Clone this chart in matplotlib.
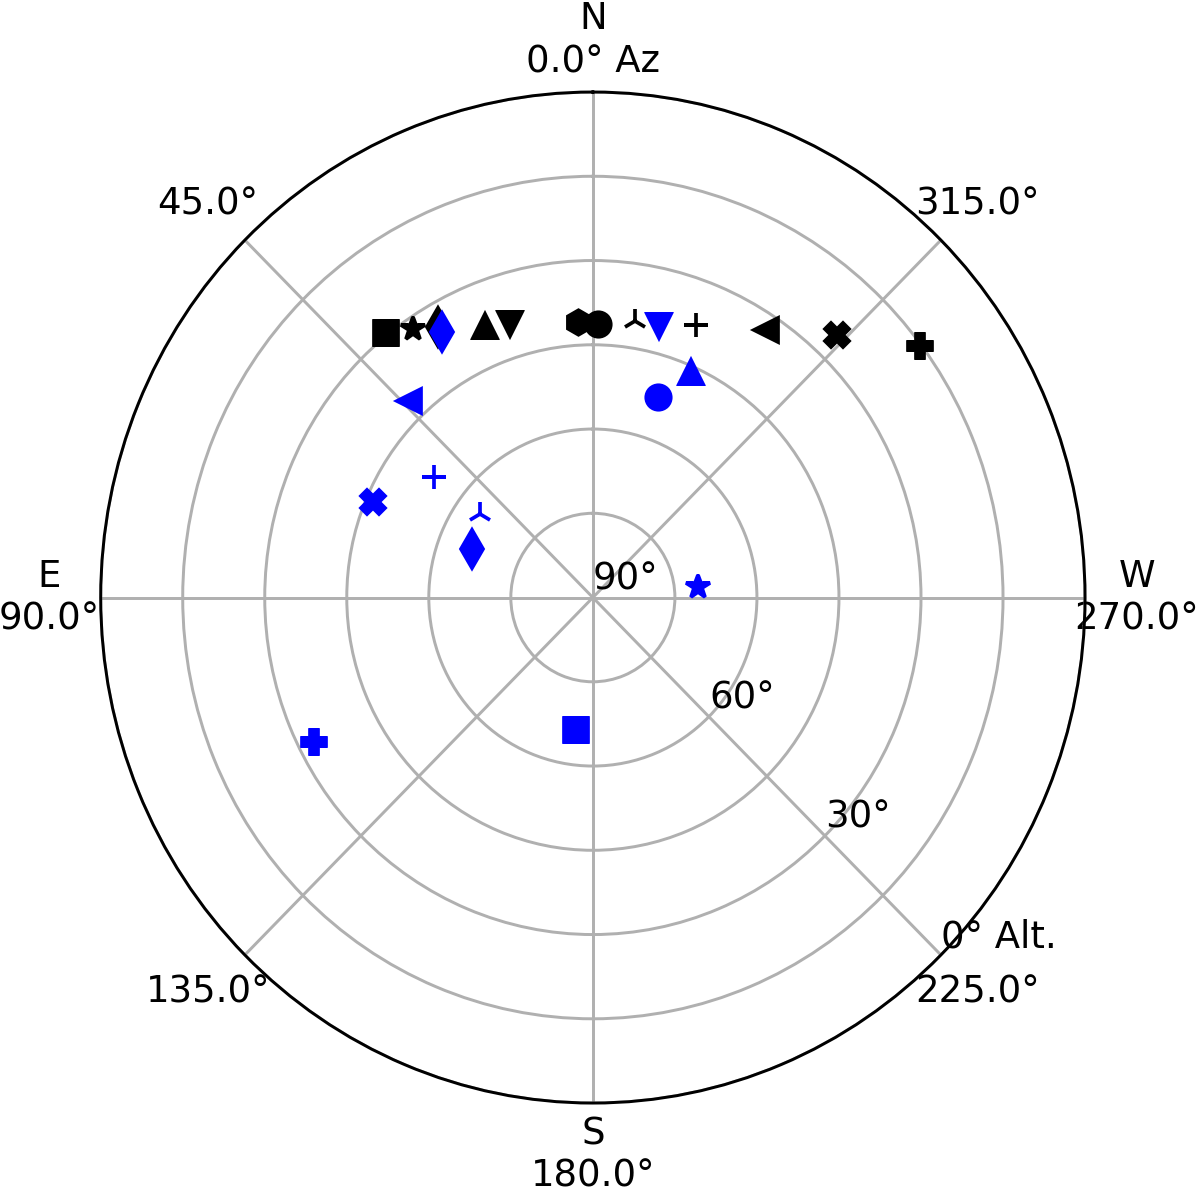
"""Sky chart: target positions at two times (black = early, blue = late)."""
import numpy as np
import matplotlib
matplotlib.use("Agg")
import matplotlib.pyplot as plt

# target markers (one per target)
markers_early = ["s", "*", "d", "^", "v", "h", "o", "2", "+", "<", "X", "P"]
az_early = [38.8, 34.6, 30.5, 22.2, 17.3, 3.2, 358.9, 351.1, 338.8, 326.4, 316.3, 306.8]
alt_early = [29.6, 32.0, 34.1, 37.7, 38.9, 40.9, 41.3, 40.2, 38.0, 32.85, 25.4, 15.3]

markers_late = ["v", "d", "<", "o", "^", "+", "X", "2", "d", "*", "s", "P"]
az_late = [346.0, 30.3, 43.8, 341.6, 335.9, 53.7, 67.0, 54.1, 68.5, 275.8, 172.5, 116.7]
alt_late = [40.2, 35.3, 41.4, 52.3, 46.1, 53.9, 46.3, 64.5, 66.2, 70.7, 66.3, 32.9]

r_ticks = [0, 15, 30, 45, 60, 75, 90]
r_labels = ["90°", "", "60°", "", "30°", "", "0° Alt."]
theta_ticks = [0, 45, 90, 135, 180, 225, 270, 315]
theta_labels = ["N\n0.0° Az", "45.0°", "E\n90.0°", "135.0°",
                "S\n180.0°", "225.0°", "W\n270.0°", "315.0°"]


def msize(m):
    return 7.2 if m == "d" else 6.6


fig = plt.figure(figsize=(4.5, 4.474), dpi=266.67)
ax = fig.add_axes([0.0839, 0.0754, 0.8203, 0.8474], projection="polar")
ax.set_aspect("auto")
ax.set_theta_zero_location("N")
ax.set_theta_direction(1)

for m, az, alt in zip(markers_early, az_early, alt_early):
    ax.plot(np.deg2rad(az), 90 - alt, marker=m, ms=msize(m), color="k", ls="none")
for m, az, alt in zip(markers_late, az_late, alt_late):
    ax.plot(np.deg2rad(az), 90 - alt, marker=m, ms=msize(m), color="b", ls="none")

ax.set_rlim(0, 90)
ax.set_rgrids(r_ticks, r_labels)
ax.set_rlabel_position(225)
ax.set_thetagrids(theta_ticks, theta_labels)
ax.grid(True, color="#b0b0b0", lw=0.8)

fig.savefig("out.png", dpi=266.67)
